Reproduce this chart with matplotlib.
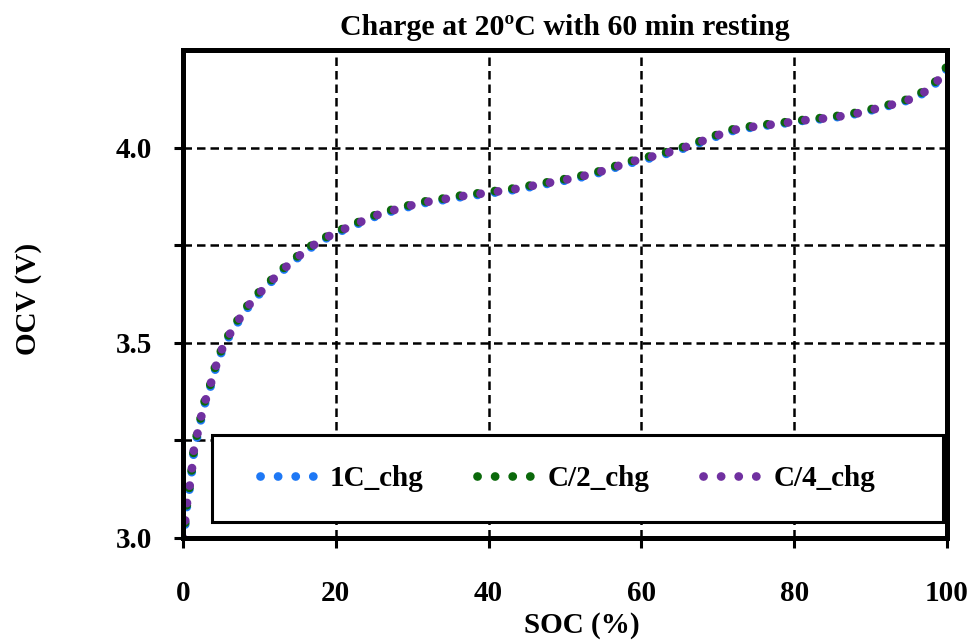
import matplotlib
matplotlib.use('Agg')
import matplotlib.pyplot as plt
from matplotlib.lines import Line2D
from matplotlib.patches import Rectangle
from matplotlib.ticker import FixedLocator, FixedFormatter

plt.rcParams['font.family'] = ['Liberation Serif', 'DejaVu Serif']
plt.rcParams['font.weight'] = 'bold'

# OCV vs SOC readings for each charge rate
soc = [0, 0.26, 0.52, 0.92, 1.18, 1.44, 2.0, 2.75, 3.45, 3.97, 4.75,
       5.37, 6.6, 7.8, 8.77, 10.0, 11.6, 13.35, 15.1, 16.1, 18.0,
       20.1, 23.4, 26.0, 28.6, 31.0, 33.9, 36.3, 38.65, 41.3, 43.9,
       46.5, 49.1, 51.7, 54.1, 56.8, 58.9, 61.6, 64.0, 66.8, 69.2,
       71.8, 73.3, 75.7, 78.4, 80.8, 83.6, 86.0, 88.6, 91.2, 93.4,
       95.4, 97.1, 98.0, 98.9, 99.5, 100]

ocv_1c = [3.000, 3.030, 3.085, 3.135, 3.175, 3.225, 3.272, 3.338, 3.376, 3.418, 3.461,
          3.494, 3.535, 3.571, 3.598, 3.625, 3.657, 3.690, 3.719, 3.735, 3.760,
          3.781, 3.809, 3.830, 3.843, 3.856, 3.865, 3.873, 3.879, 3.886, 3.893,
          3.903, 3.912, 3.922, 3.933, 3.950, 3.962, 3.975, 3.988, 4.006, 4.024,
          4.042, 4.048, 4.055, 4.061, 4.068, 4.073, 4.079, 4.088, 4.101, 4.112,
          4.124, 4.141, 4.155, 4.172, 4.189, 4.203]

ocv_c2 = [3.000, 3.035, 3.090, 3.140, 3.182, 3.232, 3.280, 3.346, 3.383, 3.425, 3.468,
          3.500, 3.541, 3.578, 3.604, 3.631, 3.662, 3.695, 3.724, 3.740, 3.764,
          3.785, 3.813, 3.834, 3.847, 3.860, 3.869, 3.877, 3.883, 3.890, 3.897,
          3.907, 3.916, 3.926, 3.937, 3.954, 3.967, 3.980, 3.992, 4.010, 4.028,
          4.046, 4.052, 4.058, 4.064, 4.070, 4.076, 4.082, 4.091, 4.104, 4.115,
          4.127, 4.146, 4.160, 4.177, 4.195, 4.208]

ocv_c4 = [3.000, 3.040, 3.090, 3.140, 3.180, 3.230, 3.277, 3.343, 3.380, 3.422, 3.465,
          3.497, 3.538, 3.574, 3.600, 3.627, 3.659, 3.692, 3.721, 3.737, 3.762,
          3.783, 3.811, 3.832, 3.845, 3.858, 3.867, 3.875, 3.881, 3.888, 3.895,
          3.905, 3.914, 3.924, 3.935, 3.952, 3.965, 3.978, 3.990, 4.008, 4.026,
          4.044, 4.050, 4.056, 4.062, 4.069, 4.074, 4.080, 4.089, 4.102, 4.113,
          4.125, 4.143, 4.157, 4.174, 4.191, 4.204]

series = [('1C_chg', ocv_1c, '#1E78F5', 0.45),
          ('C/2_chg', ocv_c2, '#0B690B', 0.25),
          ('C/4_chg', ocv_c4, '#7030A0', 0.0)]

x_ticks = [0, 20, 40, 60, 80, 100]
y_ticks = [3.0, 3.25, 3.5, 3.75, 4.0]
y_tick_labels = ['3.0', '', '3.5', '', '4.0']

fig = plt.figure(figsize=(9.72, 6.41), dpi=100)
ax = fig.add_axes([0.1883, 0.1607, 0.786, 0.7613])

LW = 6.3
DOTS = (0.01, 2.0)

# Excel-like round-dot series
handles = []
for name, ocv, color, off in series:
    ax.plot(soc, ocv, color=color, lw=LW, linestyle=(off, DOTS),
            dash_capstyle='round', zorder=3)
    handles.append(Line2D([], [], color=color, lw=LW, linestyle=(0, DOTS),
                          dash_capstyle='round', label=name))

ax.set_xlim(0, 100)
ax.set_ylim(3.0, 4.25)
ax.xaxis.set_major_locator(FixedLocator(x_ticks))
ax.yaxis.set_major_locator(FixedLocator(y_ticks))
ax.yaxis.set_major_formatter(FixedFormatter(y_tick_labels))

ax.grid(True, color='black', lw=1.8, linestyle=(0, (3.4, 2.0)), zorder=1)
ax.set_axisbelow(True)

for sp in ax.spines.values():
    sp.set_linewidth(3.6)
    sp.set_zorder(5)

ax.tick_params(axis='both', direction='out', width=2.2, labelsize=21, color='black')
ax.tick_params(axis='y', length=6.5, pad=16)
ax.tick_params(axis='x', length=7.5, pad=23)
for lab in ax.get_xticklabels() + ax.get_yticklabels():
    lab.set_fontweight('bold')

ax.set_title('Charge at 20ºC with 60 min resting', fontsize=21.5, fontweight='bold', pad=11)
ax.set_xlabel('SOC (%)', fontsize=21, fontweight='bold')
ax.set_ylabel('OCV (V)', fontsize=21, fontweight='bold')
ax.xaxis.set_label_coords(0.522, -0.152)
ax.yaxis.set_label_coords(-0.185, 0.49)

# legend box with white fill
box = Rectangle((0.038, 0.033), 0.957, 0.178, transform=ax.transAxes,
                facecolor='white', edgecolor='black', lw=2.2, zorder=4)
ax.add_patch(box)
leg = ax.legend(handles=handles, loc='center', bbox_to_anchor=(0.503, 0.122), ncol=3,
                frameon=False, prop={'size': 21, 'weight': 'bold'}, handlelength=2.0,
                handletextpad=0.4, columnspacing=1.85)
leg.set_zorder(6)

fig.savefig('out.png', dpi=100)
